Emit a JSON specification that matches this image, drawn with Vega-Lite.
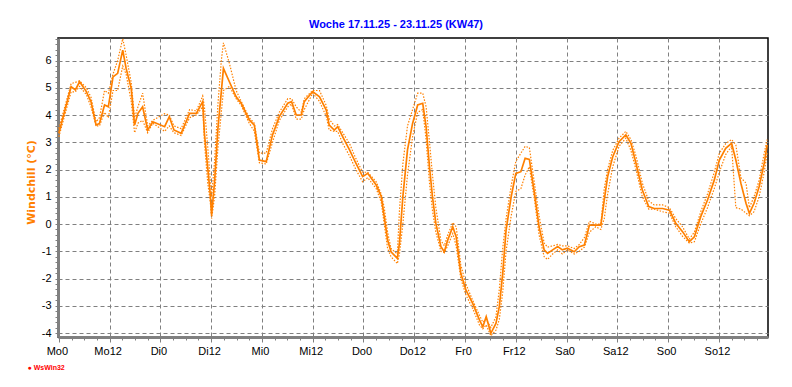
{
  "$schema": "https://vega.github.io/schema/vega-lite/v6.json",
  "width": 710,
  "height": 299,
  "autosize": "none",
  "padding": {"left": 58, "top": 38, "right": 24, "bottom": 50},
  "background": "#ffffff",
  "title": {
    "text": "Woche 17.11.25 - 23.11.25 (KW47)",
    "anchor": "middle",
    "dx": -17,
    "dy": 3,
    "offset": 6,
    "font": "Liberation Sans",
    "fontSize": 11,
    "fontWeight": "bold",
    "color": "#0000ff"
  },
  "config": {
    "view": {"stroke": "#000000", "strokeWidth": 1.5, "fill": "#ffffff"},
    "axis": {
      "labelFont": "Liberation Sans",
      "labelFontSize": 11,
      "labelColor": "#000000",
      "domainColor": "#808080",
      "domainWidth": 3,
      "tickColor": "#808080",
      "gridColor": "#808080",
      "gridDash": [4, 3],
      "gridWidth": 1,
      "labelOverlap": false,
      "labelFlush": false,
      "tickCount": 500
    }
  },
  "data": {
    "values": [
      {"h": 0, "v": 3.33, "hi": 3.5, "lo": 3.2},
      {"h": 2.9, "v": 5.04, "hi": 5.15, "lo": 4.85},
      {"h": 3.9, "v": 4.92, "hi": 5.2, "lo": 4.85},
      {"h": 4.9, "v": 5.22, "hi": 5.25, "lo": 5.05},
      {"h": 6.5, "v": 4.86, "hi": 5.0, "lo": 4.75},
      {"h": 7.6, "v": 4.49, "hi": 4.65, "lo": 4.3},
      {"h": 8.8, "v": 3.63, "hi": 3.75, "lo": 3.6},
      {"h": 9.6, "v": 3.69, "hi": 3.9, "lo": 3.6},
      {"h": 10.8, "v": 4.37, "hi": 4.9, "lo": 4.1},
      {"h": 11.7, "v": 4.3, "hi": 4.8, "lo": 3.9},
      {"h": 12.8, "v": 5.4, "hi": 5.5, "lo": 4.9},
      {"h": 13.9, "v": 5.53, "hi": 6.0, "lo": 4.9},
      {"h": 15.1, "v": 6.38, "hi": 6.8, "lo": 5.8},
      {"h": 15.9, "v": 5.71, "hi": 6.2, "lo": 5.5},
      {"h": 17.1, "v": 4.98, "hi": 5.2, "lo": 4.5},
      {"h": 17.9, "v": 3.63, "hi": 3.9, "lo": 3.35},
      {"h": 18.7, "v": 4.06, "hi": 4.3, "lo": 3.7},
      {"h": 19.8, "v": 4.3, "hi": 4.8, "lo": 3.8},
      {"h": 21, "v": 3.45, "hi": 3.6, "lo": 3.35},
      {"h": 22.2, "v": 3.75, "hi": 3.8, "lo": 3.7},
      {"h": 25, "v": 3.57, "hi": 4.05, "lo": 3.4},
      {"h": 26.1, "v": 3.94, "hi": 4.0, "lo": 3.6},
      {"h": 27.2, "v": 3.45, "hi": 3.6, "lo": 3.35},
      {"h": 28.9, "v": 3.33, "hi": 3.5, "lo": 3.25},
      {"h": 30.9, "v": 4.06, "hi": 4.2, "lo": 3.9},
      {"h": 32.5, "v": 4.06, "hi": 4.15, "lo": 4.0},
      {"h": 34, "v": 4.49, "hi": 4.7, "lo": 4.3},
      {"h": 34.4, "v": 3.33, "hi": 4.3, "lo": 3.0},
      {"h": 35.2, "v": 2.04, "hi": 2.8, "lo": 1.5},
      {"h": 35.8, "v": 1.06, "hi": 1.6, "lo": 0.8},
      {"h": 36.1, "v": 0.33, "hi": 1.0, "lo": 0.2},
      {"h": 36.8, "v": 1.55, "hi": 2.3, "lo": 1.0},
      {"h": 37.6, "v": 3.51, "hi": 4.4, "lo": 2.8},
      {"h": 38.4, "v": 4.86, "hi": 6.0, "lo": 4.1},
      {"h": 38.9, "v": 5.71, "hi": 6.65, "lo": 4.9},
      {"h": 40.3, "v": 5.22, "hi": 5.9, "lo": 5.05},
      {"h": 41.9, "v": 4.67, "hi": 4.9, "lo": 4.6},
      {"h": 43.1, "v": 4.43, "hi": 4.5, "lo": 4.35},
      {"h": 45, "v": 3.82, "hi": 3.9, "lo": 3.7},
      {"h": 46.2, "v": 3.63, "hi": 3.7, "lo": 3.4},
      {"h": 47.4, "v": 2.35, "hi": 2.6, "lo": 2.25},
      {"h": 49, "v": 2.29, "hi": 2.6, "lo": 2.2},
      {"h": 50.5, "v": 3.27, "hi": 3.5, "lo": 3.0},
      {"h": 52.1, "v": 3.94, "hi": 4.1, "lo": 3.8},
      {"h": 54.1, "v": 4.43, "hi": 4.6, "lo": 4.3},
      {"h": 55, "v": 4.49, "hi": 4.6, "lo": 4.4},
      {"h": 56.1, "v": 4.0, "hi": 4.3, "lo": 3.85},
      {"h": 57.3, "v": 4.0, "hi": 4.1, "lo": 3.85},
      {"h": 58, "v": 4.49, "hi": 4.6, "lo": 4.2},
      {"h": 60, "v": 4.86, "hi": 4.9, "lo": 4.8},
      {"h": 61.6, "v": 4.67, "hi": 4.9, "lo": 4.5},
      {"h": 63.2, "v": 4.18, "hi": 4.35, "lo": 3.95},
      {"h": 63.9, "v": 3.63, "hi": 3.85, "lo": 3.45},
      {"h": 65.1, "v": 3.45, "hi": 3.6, "lo": 3.4},
      {"h": 65.9, "v": 3.57, "hi": 3.65, "lo": 3.4},
      {"h": 67.1, "v": 3.2, "hi": 3.35, "lo": 2.95},
      {"h": 68.7, "v": 2.72, "hi": 2.95, "lo": 2.5},
      {"h": 70.2, "v": 2.23, "hi": 2.4, "lo": 2.0},
      {"h": 71.8, "v": 1.74, "hi": 1.9, "lo": 1.55},
      {"h": 73, "v": 1.86, "hi": 1.9, "lo": 1.7},
      {"h": 75, "v": 1.43, "hi": 1.55, "lo": 1.3},
      {"h": 76.2, "v": 1.0, "hi": 1.1, "lo": 0.8},
      {"h": 76.9, "v": 0.27, "hi": 0.6, "lo": 0.0},
      {"h": 77.7, "v": -0.59, "hi": -0.3, "lo": -0.9},
      {"h": 78.5, "v": -1.02, "hi": -0.9, "lo": -1.2},
      {"h": 80, "v": -1.26, "hi": -1.1, "lo": -1.45},
      {"h": 80.5, "v": -0.7, "hi": 0.5, "lo": -1.1},
      {"h": 81.3, "v": 1.0, "hi": 2.2, "lo": 0.0},
      {"h": 82.4, "v": 2.72, "hi": 3.6, "lo": 1.8},
      {"h": 83.6, "v": 3.69, "hi": 4.2, "lo": 3.2},
      {"h": 84.8, "v": 4.37, "hi": 4.8, "lo": 4.1},
      {"h": 86, "v": 4.43, "hi": 4.8, "lo": 4.2},
      {"h": 86.8, "v": 3.57, "hi": 4.3, "lo": 3.1},
      {"h": 87.6, "v": 2.1, "hi": 3.0, "lo": 1.5},
      {"h": 88.3, "v": 1.0, "hi": 1.8, "lo": 0.5},
      {"h": 89.1, "v": 0.03, "hi": 0.6, "lo": -0.3},
      {"h": 90.3, "v": -0.83, "hi": -0.6, "lo": -1.0},
      {"h": 91.1, "v": -1.02, "hi": -0.8, "lo": -1.05},
      {"h": 91.9, "v": -0.59, "hi": -0.4, "lo": -0.8},
      {"h": 93.1, "v": -0.1, "hi": 0.05, "lo": -0.35},
      {"h": 93.9, "v": -0.47, "hi": -0.1, "lo": -0.8},
      {"h": 95, "v": -1.81, "hi": -1.5, "lo": -2.0},
      {"h": 96.2, "v": -2.42, "hi": -2.2, "lo": -2.6},
      {"h": 97.8, "v": -2.91, "hi": -2.8, "lo": -3.1},
      {"h": 99.4, "v": -3.52, "hi": -3.35, "lo": -3.7},
      {"h": 100.2, "v": -3.77, "hi": -3.6, "lo": -3.85},
      {"h": 101, "v": -3.4, "hi": -3.5, "lo": -3.7},
      {"h": 102.1, "v": -4.01, "hi": -3.8, "lo": -4.1},
      {"h": 103.3, "v": -3.65, "hi": -3.4, "lo": -3.9},
      {"h": 104.1, "v": -3.03, "hi": -2.4, "lo": -3.5},
      {"h": 104.9, "v": -1.81, "hi": -0.9, "lo": -2.5},
      {"h": 105.7, "v": -0.22, "hi": 0.2, "lo": -1.0},
      {"h": 106.9, "v": 1.0, "hi": 1.4, "lo": 0.3},
      {"h": 108, "v": 1.86, "hi": 2.3, "lo": 1.2},
      {"h": 109.2, "v": 1.92, "hi": 2.6, "lo": 1.3},
      {"h": 110.2, "v": 2.41, "hi": 2.85, "lo": 1.8},
      {"h": 111.2, "v": 2.37, "hi": 2.8, "lo": 2.1},
      {"h": 112.4, "v": 1.13, "hi": 1.5, "lo": 0.9},
      {"h": 113.5, "v": -0.1, "hi": 0.3, "lo": -0.4},
      {"h": 114.7, "v": -0.95, "hi": -0.7, "lo": -1.2},
      {"h": 115.5, "v": -1.08, "hi": -0.85, "lo": -1.3},
      {"h": 116.7, "v": -0.95, "hi": -0.8, "lo": -1.1},
      {"h": 117.9, "v": -0.83, "hi": -0.75, "lo": -0.95},
      {"h": 119, "v": -0.95, "hi": -0.8, "lo": -1.1},
      {"h": 120.2, "v": -0.89, "hi": -0.8, "lo": -0.95},
      {"h": 121.8, "v": -1.02, "hi": -0.9, "lo": -1.1},
      {"h": 123, "v": -0.83, "hi": -0.75, "lo": -1.0},
      {"h": 124.2, "v": -0.77, "hi": -0.5, "lo": -0.85},
      {"h": 125.4, "v": -0.04, "hi": 0.1, "lo": -0.3},
      {"h": 126.9, "v": -0.04, "hi": 0.0, "lo": -0.1},
      {"h": 128.1, "v": -0.04, "hi": 0.0, "lo": -0.2},
      {"h": 128.9, "v": 0.88, "hi": 1.3, "lo": 0.2},
      {"h": 129.7, "v": 1.74, "hi": 2.0, "lo": 1.1},
      {"h": 130.9, "v": 2.47, "hi": 2.7, "lo": 2.1},
      {"h": 132.4, "v": 3.02, "hi": 3.15, "lo": 2.85},
      {"h": 134, "v": 3.27, "hi": 3.4, "lo": 3.15},
      {"h": 135.2, "v": 2.96, "hi": 3.1, "lo": 2.7},
      {"h": 136.4, "v": 2.23, "hi": 2.5, "lo": 2.0},
      {"h": 137.9, "v": 1.25, "hi": 1.5, "lo": 1.0},
      {"h": 139.4, "v": 0.64, "hi": 0.85, "lo": 0.55},
      {"h": 140.7, "v": 0.57, "hi": 0.7, "lo": 0.55},
      {"h": 142.7, "v": 0.57, "hi": 0.7, "lo": 0.45},
      {"h": 144.3, "v": 0.51, "hi": 0.6, "lo": 0.4},
      {"h": 145.8, "v": 0.03, "hi": 0.2, "lo": -0.1},
      {"h": 147.4, "v": -0.28, "hi": -0.1, "lo": -0.45},
      {"h": 149, "v": -0.65, "hi": -0.55, "lo": -0.7},
      {"h": 150.2, "v": -0.47, "hi": -0.3, "lo": -0.65},
      {"h": 151.7, "v": 0.27, "hi": 0.45, "lo": 0.0},
      {"h": 153.3, "v": 0.88, "hi": 1.1, "lo": 0.6},
      {"h": 154.9, "v": 1.61, "hi": 1.9, "lo": 1.3},
      {"h": 156.1, "v": 2.35, "hi": 2.6, "lo": 1.9},
      {"h": 157.6, "v": 2.78, "hi": 2.95, "lo": 2.55},
      {"h": 159, "v": 2.96, "hi": 3.1, "lo": 2.85},
      {"h": 160, "v": 2.35, "hi": 2.9, "lo": 0.6},
      {"h": 161.2, "v": 1.49, "hi": 1.7, "lo": 0.55},
      {"h": 162.4, "v": 0.76, "hi": 1.5, "lo": 0.4},
      {"h": 163.2, "v": 0.39, "hi": 0.6, "lo": 0.3},
      {"h": 164.3, "v": 0.76, "hi": 1.0, "lo": 0.45},
      {"h": 165.5, "v": 1.37, "hi": 1.6, "lo": 1.0},
      {"h": 166.7, "v": 2.23, "hi": 2.6, "lo": 1.9},
      {"h": 167.4, "v": 2.9, "hi": 3.1, "lo": 2.6}
    ]
  },
  "layer": [
    {
      "mark": {"type": "line", "color": "#ff8000", "strokeWidth": 1.2, "strokeDash": [1.5, 1.5], "clip": true},
      "encoding": {
        "x": {
          "field": "h",
          "type": "quantitative",
          "scale": {"domain": [-0.2, 167.6], "nice": false, "zero": false},
          "axis": {
            "title": "● WsWin32",
            "titleFont": "Liberation Sans",
            "titleFontSize": 7,
            "titleFontWeight": "bold",
            "titleColor": "#ff0000",
            "titleAnchor": "start",
            "titleAlign": "left",
            "titleBaseline": "middle",
            "titleX": -31,
            "titleY": 30,
            "tickCount": 500,
            "values": [0, 3, 6, 9, 12, 15, 18, 21, 24, 27, 30, 33, 36, 39, 42, 45, 48, 51, 54, 57, 60, 63, 66, 69, 72, 75, 78, 81, 84, 87, 90, 93, 96, 99, 102, 105, 108, 111, 114, 117, 120, 123, 126, 129, 132, 135, 138, 141, 144, 147, 150, 153, 156, 159, 162, 165],
            "labelExpr": "datum.value % 12 === 0 ? ['Mo0','Mo12','Di0','Di12','Mi0','Mi12','Do0','Do12','Fr0','Fr12','Sa0','Sa12','So0','So12'][datum.value / 12] : ''",
            "tickSize": {"condition": {"test": "datum.value % 12 === 0", "value": 5}, "value": 3},
            "gridOpacity": {"condition": {"test": "datum.value % 12 === 0 && datum.value > 0", "value": 1}, "value": 0},
            "labelPadding": 3,
            "labelOffset": -2,
            "labelFlush": false,
            "labelAngle": 0
          }
        },
        "y": {
          "field": "lo",
          "type": "quantitative",
          "scale": {"domain": [-4.146, 6.826], "nice": false, "zero": false},
          "axis": {
            "title": "Windchill  (°C)",
            "titleFont": "DejaVu Sans",
            "titleFontSize": 11,
            "titleFontWeight": "bold",
            "titleColor": "#ff8000",
            "titleAngle": -90,
            "titleAlign": "center",
            "titleBaseline": "middle",
            "titleX": -27,
            "titleY": 144,
            "tickCount": 500,
            "values": [-4, -3.8, -3.6, -3.4, -3.2, -3, -2.8, -2.6, -2.4, -2.2, -2, -1.8, -1.6, -1.4, -1.2, -1, -0.8, -0.6, -0.4, -0.2, 0, 0.2, 0.4, 0.6, 0.8, 1, 1.2, 1.4, 1.6, 1.8, 2, 2.2, 2.4, 2.6, 2.8, 3, 3.2, 3.4, 3.6, 3.8, 4, 4.2, 4.4, 4.6, 4.8, 5, 5.2, 5.4, 5.6, 5.8, 6, 6.2, 6.4, 6.6, 6.8],
            "labelExpr": "abs(datum.value - round(datum.value)) < 0.001 ? '' + round(datum.value) : ''",
            "tickSize": 3,
            "labelPadding": 4,
            "gridOpacity": {"condition": {"test": "abs(datum.value - round(datum.value)) < 0.001", "value": 1}, "value": 0}
          }
        }
      }
    },
    {
      "mark": {"type": "line", "color": "#ff8000", "strokeWidth": 1.2, "strokeDash": [1.5, 1.5], "clip": true},
      "encoding": {
        "x": {"field": "h", "type": "quantitative"},
        "y": {"field": "hi", "type": "quantitative"}
      }
    },
    {
      "mark": {"type": "line", "color": "#ff8000", "strokeWidth": 1.7, "clip": true},
      "encoding": {
        "x": {"field": "h", "type": "quantitative"},
        "y": {"field": "v", "type": "quantitative"}
      }
    }
  ]
}
